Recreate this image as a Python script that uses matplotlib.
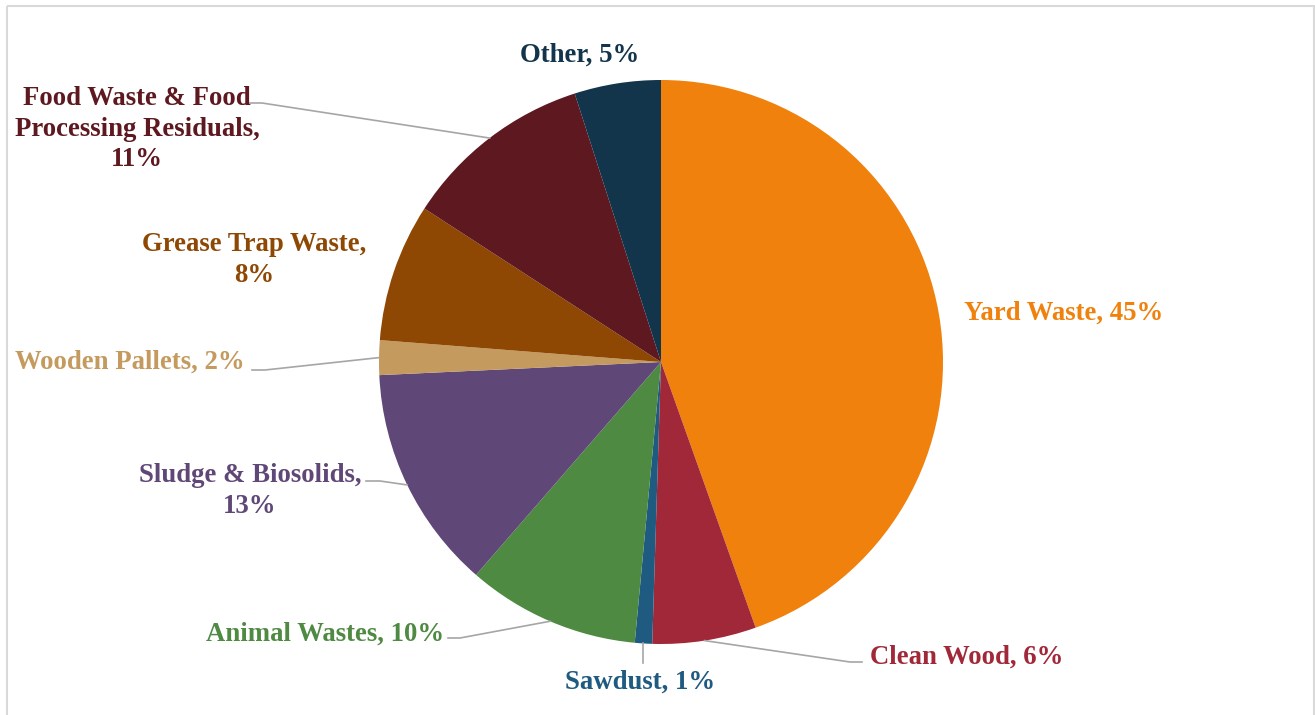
#!/usr/bin/env python3

import numpy as np
import matplotlib
matplotlib.use('Agg')

import matplotlib.pyplot as plt
from matplotlib.patches import Rectangle

categories = ["Yard Waste", "Clean Wood", "Sawdust", "Animal Wastes",
              "Sludge & Biosolids", "Wooden Pallets", "Grease Trap Waste",
              "Food Waste & Food Processing Residuals", "Other"]
shares = [45, 6, 1, 10, 13, 2, 8, 11, 5]
label_texts = ["Yard Waste, 45%", "Clean Wood, 6%", "Sawdust, 1%",
               "Animal Wastes, 10%", "Sludge & Biosolids,\n13%",
               "Wooden Pallets, 2%", "Grease Trap Waste,\n8%",
               "Food Waste & Food\nProcessing Residuals,\n11%", "Other, 5%"]
colors = ["#EF810C", "#A02838", "#1F5A80", "#4F8A42", "#5F4877",
          "#C49A5E", "#8E4804", "#5E1820", "#12354C"]


def main():
    W, H = 1315, 715
    fig = plt.figure(figsize=(W / 100, H / 100), dpi=100)
    ax = fig.add_axes([0, 0, 1, 1])

    cx, cy, r = 661, 362, 282
    # y axis runs downward (pixel layout), so counterclock draws clockwise on screen
    wedges, _ = ax.pie(shares, colors=colors, startangle=-90, counterclock=True,
                       center=(cx, cy), radius=r,
                       wedgeprops=dict(edgecolor="none", linewidth=0))
    ax.set_xlim(0, W)
    ax.set_ylim(H, 0)
    ax.set_aspect("equal", adjustable="box")
    ax.axis("off")

    # label placement: text position, alignment, leader elbow (or None)
    layout = [
        ((964, 313), "left", None),
        ((870, 657), "left", [(850, 662), (862, 662)]),
        ((640, 682), "center", [(645, 663)]),
        ((325, 634), "center", [(460, 638), (448, 638)]),
        ((250, 491), "center", [(380, 481), (366, 481)]),
        ((130, 362), "center", [(265, 370), (252, 370)]),
        ((254, 260), "center", None),
        ((137, 129), "center", [(262, 103), (250, 103)]),
        ((580, 55), "center", None),
    ]

    for w, txt, col, (pos, ha, elbow) in zip(wedges, label_texts, colors, layout):
        mid = np.deg2rad((w.theta1 + w.theta2) / 2)
        ex = cx + r * np.cos(mid)
        ey = cy + r * np.sin(mid)
        if elbow is not None:
            if len(elbow) == 1:
                pts = [(ex, ey), (ex, elbow[0][1])]
            else:
                pts = [(ex, ey)] + elbow
            xs, ys = zip(*pts)
            ax.plot(xs, ys, color="#A6A6A6", linewidth=1.2, zorder=1)
        ax.text(pos[0], pos[1], txt, ha=ha, va="center", color=col,
                fontsize=19.3, fontweight="bold", family="Liberation Serif",
                multialignment="center", linespacing=1.3)

    frame = Rectangle((7, 6), 1307, 720, fill=False, edgecolor="#D9D9D9",
                      linewidth=1.5, clip_on=False)
    ax.add_patch(frame)

    fig.savefig("out.png", dpi=100)


if __name__ == "__main__":
    main()
